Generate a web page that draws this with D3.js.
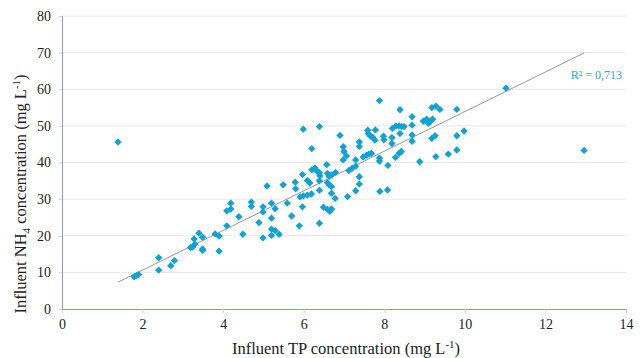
<!DOCTYPE html>
<html>
<head>
<meta charset="utf-8">
<script src="https://cdn.jsdelivr.net/npm/d3@7"></script>
<style>
  html, body { margin: 0; padding: 0; background: #fff; }
  svg { display: block; }
  text { font-family: "Liberation Serif", "DejaVu Serif", serif; fill: #222; }
</style>
</head>
<body>
<svg id="chart" width="643" height="358"></svg>
<script>
// Influent total phosphorus (mg/L) for each sample
const tp = [
  1.39, 1.79, 1.85, 1.90, 2.40, 2.40, 2.70, 2.79,
  3.19, 3.24, 3.30, 3.28, 3.40, 3.49, 3.49, 3.49, 3.80, 3.90, 3.90,
  4.09, 4.09, 4.19, 4.19, 4.39, 4.49, 4.70, 4.70, 4.89, 4.99, 4.99, 4.99,
  5.09, 5.20, 5.20, 5.20, 5.20, 5.29, 5.29, 5.39, 5.49, 5.59, 5.70, 5.79, 5.80,
  5.91, 5.99, 6.09, 6.19, 5.89, 5.97, 5.97, 5.99,
  6.09, 6.15, 6.20, 6.20, 6.28, 6.34, 6.39, 6.40, 6.39, 6.39, 6.39, 6.39,
  6.49, 6.57, 6.59, 6.63, 6.69, 6.79, 6.59, 6.63, 6.69, 6.69, 6.59, 6.65, 6.69,
  6.78, 6.90, 6.98, 7.00, 7.06, 6.98,
  7.09, 7.12, 7.20, 7.29, 7.29, 7.29, 7.38, 7.38, 7.38, 7.38, 7.48, 7.56, 7.62,
  7.68, 7.59, 7.60, 7.66, 7.71, 7.77, 7.78, 7.88, 7.88, 7.88, 7.89, 7.98, 7.99,
  8.08, 8.09, 8.20, 8.29, 8.37, 8.43, 8.49, 8.19, 8.19, 8.28, 8.37, 8.42,
  8.39, 8.39, 8.69, 8.69, 8.69, 8.69, 8.88,
  8.97, 9.05, 9.09, 9.15, 9.20, 9.18, 9.28, 9.38, 9.18, 9.26, 9.28, 9.59,
  9.80, 9.80, 9.80, 9.98, 11.02, 12.96
];

// Influent ammonium (mg/L), paired with tp by index
const nh4 = [
  45.6, 8.8, 9.1, 9.4, 14.0, 10.6, 11.8, 13.2,
  16.8, 16.9, 17.7, 19.1, 20.7, 19.6, 16.4, 16.0, 20.5, 19.9, 15.8,
  22.7, 26.8, 27.3, 28.9, 25.2, 20.4, 29.2, 28.0, 23.6, 27.9, 26.5, 19.4,
  33.6, 28.9, 24.8, 21.8, 20.1, 27.4, 21.4, 20.4, 33.9, 28.9, 25.4, 34.6, 32.8,
  30.6, 30.9, 31.1, 31.4, 22.7, 27.9, 36.7, 49.1,
  35.1, 34.4, 43.8, 38.0, 38.5, 37.5, 37.2, 36.4, 49.8, 35.0, 32.4, 23.4,
  27.8, 39.4, 37.0, 36.2, 36.6, 37.3, 34.5, 33.9, 33.4, 31.6, 27.2, 26.7, 27.3,
  30.2, 47.4, 44.3, 43.0, 41.8, 40.7,
  30.7, 37.8, 38.4, 39.0, 40.7, 32.3, 45.6, 44.4, 36.1, 34.1, 41.5, 42.0, 42.3,
  42.5, 48.8, 47.9, 47.2, 46.9, 46.1, 48.9, 56.9, 41.2, 40.4, 32.1, 47.2, 46.2,
  32.5, 39.2, 49.3, 50.0, 50.0, 49.8, 49.8, 46.8, 45.2, 41.4, 42.5, 43.0,
  54.4, 47.9, 52.5, 50.2, 47.5, 45.8, 40.2,
  51.3, 51.8, 50.7, 51.3, 51.8, 55.0, 55.4, 54.5, 46.6, 47.3, 41.6, 42.3,
  54.5, 47.3, 43.4, 48.6, 60.3, 43.3
];

// Axis ticks
const xTicks = [0, 2, 4, 6, 8, 10, 12, 14];
const yTicks = [0, 10, 20, 30, 40, 50, 60, 70, 80];

// Linear trend (NH4 = slope * TP + intercept) and its coefficient of determination
const trendCoef = [5.41, -0.2];
const trendRange = [d3.min(tp), d3.max(tp)];
const r2Label = "R² = 0,713";

const serif = "Liberation Serif, DejaVu Serif, serif";
const svg = d3.select("#chart");
const x = d3.scaleLinear().domain([0, 14]).range([62, 626]);
const y = d3.scaleLinear().domain([0, 80]).range([309, 16]);

// horizontal gridlines
svg.append("g")
  .selectAll("line")
  .data(yTicks.filter(d => d > 0))
  .join("line")
  .attr("x1", x(0)).attr("x2", x(14))
  .attr("y1", d => y(d)).attr("y2", d => y(d))
  .attr("stroke", "#e8e8e8").attr("stroke-width", 1);

// x axis
const xAxis = svg.append("g")
  .attr("transform", `translate(0,${y(0)})`)
  .call(d3.axisBottom(x).tickValues(xTicks).tickSize(4).tickPadding(6).tickFormat(d3.format("d")));
xAxis.select(".domain").attr("stroke", "#8a9bb5");
xAxis.selectAll(".tick line").attr("stroke", "#d0d0d0");
xAxis.selectAll("text").attr("font-size", 14).attr("fill", "#222").attr("font-family", serif);

// y axis
const yAxis = svg.append("g")
  .attr("transform", `translate(${x(0)},0)`)
  .call(d3.axisLeft(y).tickValues(yTicks).tickSize(3).tickPadding(8).tickFormat(d3.format("d")));
yAxis.select(".domain").attr("stroke", "#8a9bb5");
yAxis.selectAll(".tick line").attr("stroke", "#d0d0d0");
yAxis.selectAll("text").attr("font-size", 14).attr("fill", "#222").attr("font-family", serif);

// trend line
svg.append("line")
  .attr("x1", x(trendRange[0])).attr("y1", y(trendCoef[0] * trendRange[0] + trendCoef[1]))
  .attr("x2", x(trendRange[1])).attr("y2", y(trendCoef[0] * trendRange[1] + trendCoef[1]))
  .attr("stroke", "#8c8c8c").attr("stroke-width", 0.9);

// sample markers: squares turned 45° so they read as even diamonds
const marker = d3.symbol().type(d3.symbolSquare).size(27);
svg.append("g")
  .selectAll("path")
  .data(tp.map((v, i) => [v, nh4[i]]))
  .join("path")
  .attr("d", marker)
  .attr("transform", d => `translate(${x(d[0])},${y(d[1])}) rotate(45)`)
  .attr("fill", "#0ea2d6");

// R² annotation
svg.append("text")
  .attr("x", 622).attr("y", 79)
  .attr("text-anchor", "end")
  .attr("font-size", 12)
  .attr("font-family", serif)
  .style("fill", "#2aa8dc")
  .text(r2Label);

// builds a title with a super/subscript part, then centres it on cx
function title(g, parts, cx) {
  const t = g.append("text").attr("x", 0).attr("y", 0).attr("font-size", 16.5).attr("font-family", serif);
  parts.forEach(p => {
    t.append("tspan")
      .attr("dy", p.dy || 0)
      .attr("font-size", p.small ? 11 : null)
      .text(p.s);
  });
  const w = t.node().getComputedTextLength();
  t.attr("x", cx - w / 2);
  return t;
}

// x axis title
title(svg.append("g").attr("transform", "translate(0,354)"), [
  { s: "Influent TP concentration (mg L" },
  { s: "-1", dy: -6, small: true },
  { s: ")", dy: 6 }
], 346);

// y axis title
title(svg.append("g").attr("transform", "translate(26,0) rotate(-90)"), [
  { s: "Influent NH" },
  { s: "4", dy: 4, small: true },
  { s: " concentration (mg L", dy: -4 },
  { s: "-1", dy: -6, small: true },
  { s: ")", dy: 6 }
], -194);
</script>
</body>
</html>
